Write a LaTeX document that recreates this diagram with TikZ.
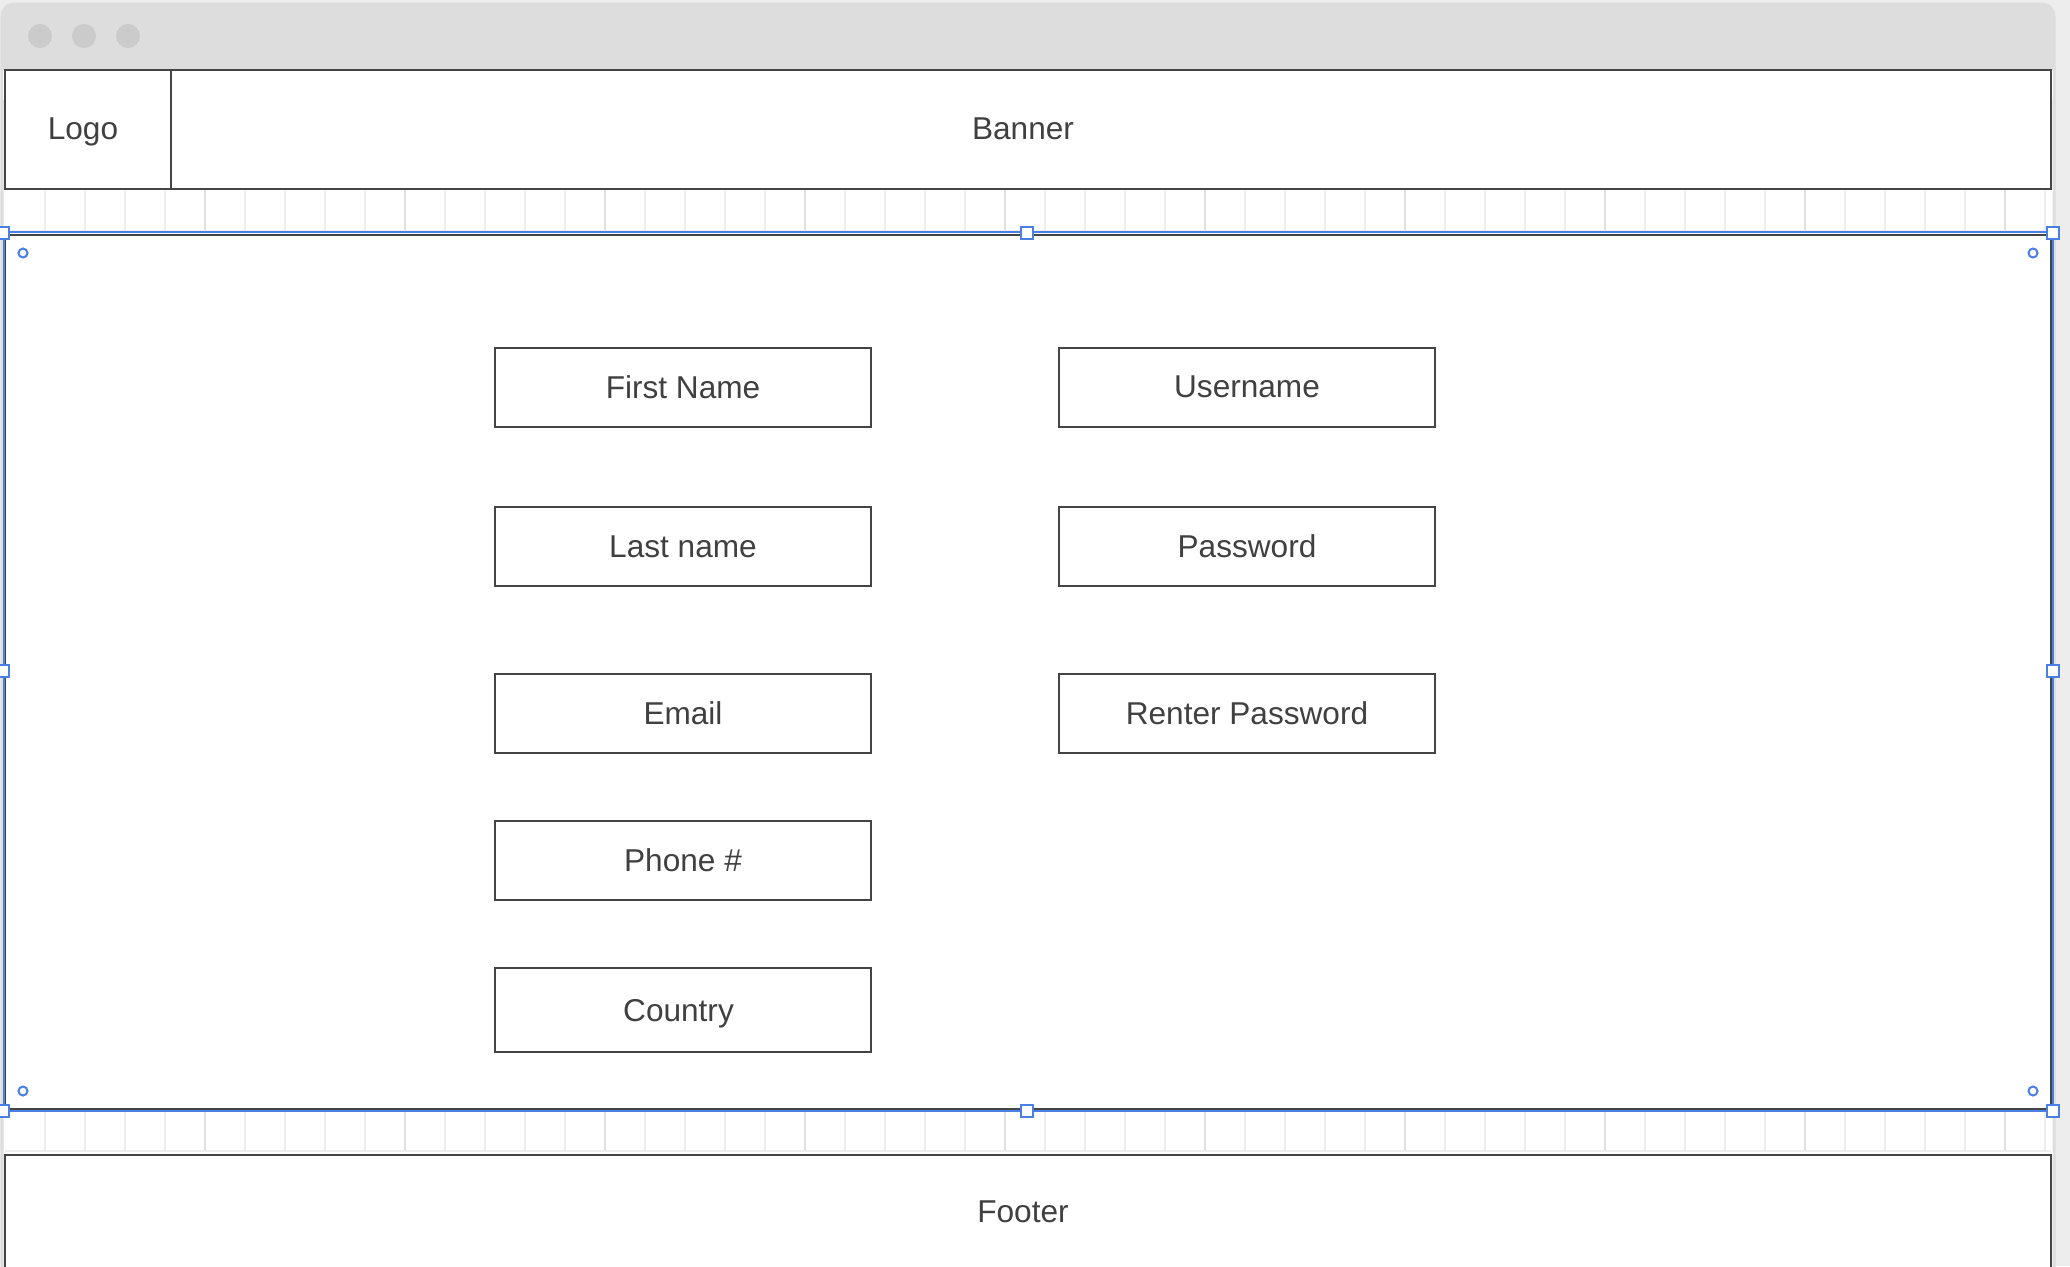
\documentclass[tikz,border=0pt]{standalone}
\usepackage{fontspec}
\setmainfont{Liberation Sans}
\definecolor{winbg}{HTML}{EDEDED}
\definecolor{titlebar}{HTML}{DDDDDD}
\definecolor{btngray}{HTML}{CBCBCB}
\definecolor{edge}{HTML}{444444}
\definecolor{ink}{HTML}{404040}
\definecolor{gridlight}{HTML}{EEEEEE}
\definecolor{griddark}{HTML}{E0E0E0}
\definecolor{selblue}{HTML}{4A7FE3}
\usetikzlibrary{positioning}

\begin{document}
\begin{tikzpicture}[x=0.5pt, y=-0.5pt, text=ink,
    font=\fontsize{15.8}{19}\selectfont,
    every node/.append style={text depth=0pt},
    field/.style={draw=edge, line width=1pt, fill=white, inner sep=0pt,
      minimum width=188pt, minimum height=39.5pt},
    handle/.style={draw=selblue, line width=1pt, fill=white, inner sep=0pt,
      minimum size=6pt},
    pin/.style={circle, draw=selblue, line width=1pt, inner sep=0pt,
      minimum size=4.5pt}]

  \useasboundingbox (0,0) rectangle (2070,1266);
  \clip (0,0) rectangle (2070,1266);
  \fill[winbg] (0,0) rectangle (2070,1266);

  % Window and title bar
  \filldraw[fill=white, draw=titlebar, line width=1.5pt, rounded corners=6pt]
    (2,4) rectangle (2054,1320);
  \fill[titlebar, rounded corners=6pt] (2,4) rectangle (2054,90);
  \fill[white] (3,70) rectangle (2053,100);
  \foreach \bx in {40,84,128}
    \fill[btngray] (\bx,36) circle (6pt);

  % Grid strips
  \foreach \gx in {45,85,...,2045}
    \draw[gridlight, line width=1pt] (\gx,190) -- (\gx,231) (\gx,1111) -- (\gx,1152);
  \foreach \gx in {205,405,...,2005}
    \draw[griddark, line width=1pt] (\gx,190) -- (\gx,231) (\gx,1111) -- (\gx,1152);
  \draw[gridlight, line width=1pt] (5,231) -- (2051,231) (5,1151) -- (2051,1151);

  % Header
  \draw[edge, line width=1pt, fill=white] (5,70) rectangle (2051,189);
  \draw[edge, line width=1pt] (171,70) -- (171,189);
  \node (logo) at (83,129) {Logo};
  \node (banner) at (1023,129) {Banner};

  % Form panel (selected)
  \draw[edge, line width=1pt, fill=white] (5,235) rectangle (2051,1109);
  \draw[selblue, line width=1pt] (4,232) rectangle (2053,1111);

  \node[field] (first) at (683,387) {First Name};
  \node[field] (last) at (683,546.5) {Last name};
  \node[field] (email) at (683,713) {Email};
  \node[field] (phone) at (683,860.5) {Phone \#};
  \node[field, minimum height=42pt] (country) at (683,1010) {};
  \node (countrytxt) at (678.5,1010) {Country};
  \node[field] (user) at (1247,387) {Username};
  \node[field] (pass) at (1247,546.5) {Password};
  \node[field] (repass) at (1247,713) {Renter Password};

  % Selection handles
  \node[handle] (hnw) at (3,233) {};
  \node[handle] (hn) at (1027,233) {};
  \node[handle] (hne) at (2053,233) {};
  \node[handle] (hw) at (3,671) {};
  \node[handle] (he) at (2053,671) {};
  \node[handle] (hsw) at (3,1110.5) {};
  \node[handle] (hs) at (1027,1110.5) {};
  \node[handle] (hse) at (2053,1110.5) {};
  \node[pin] (pnw) at (23,253) {};
  \node[pin] (pne) at (2033,253) {};
  \node[pin] (psw) at (23,1091) {};
  \node[pin] (pse) at (2033,1091) {};

  % Footer
  \draw[edge, line width=1pt, fill=white] (5,1155) rectangle (2051,1320);
  \node (footer) at (1023,1212) {Footer};

\end{tikzpicture}
\end{document}
